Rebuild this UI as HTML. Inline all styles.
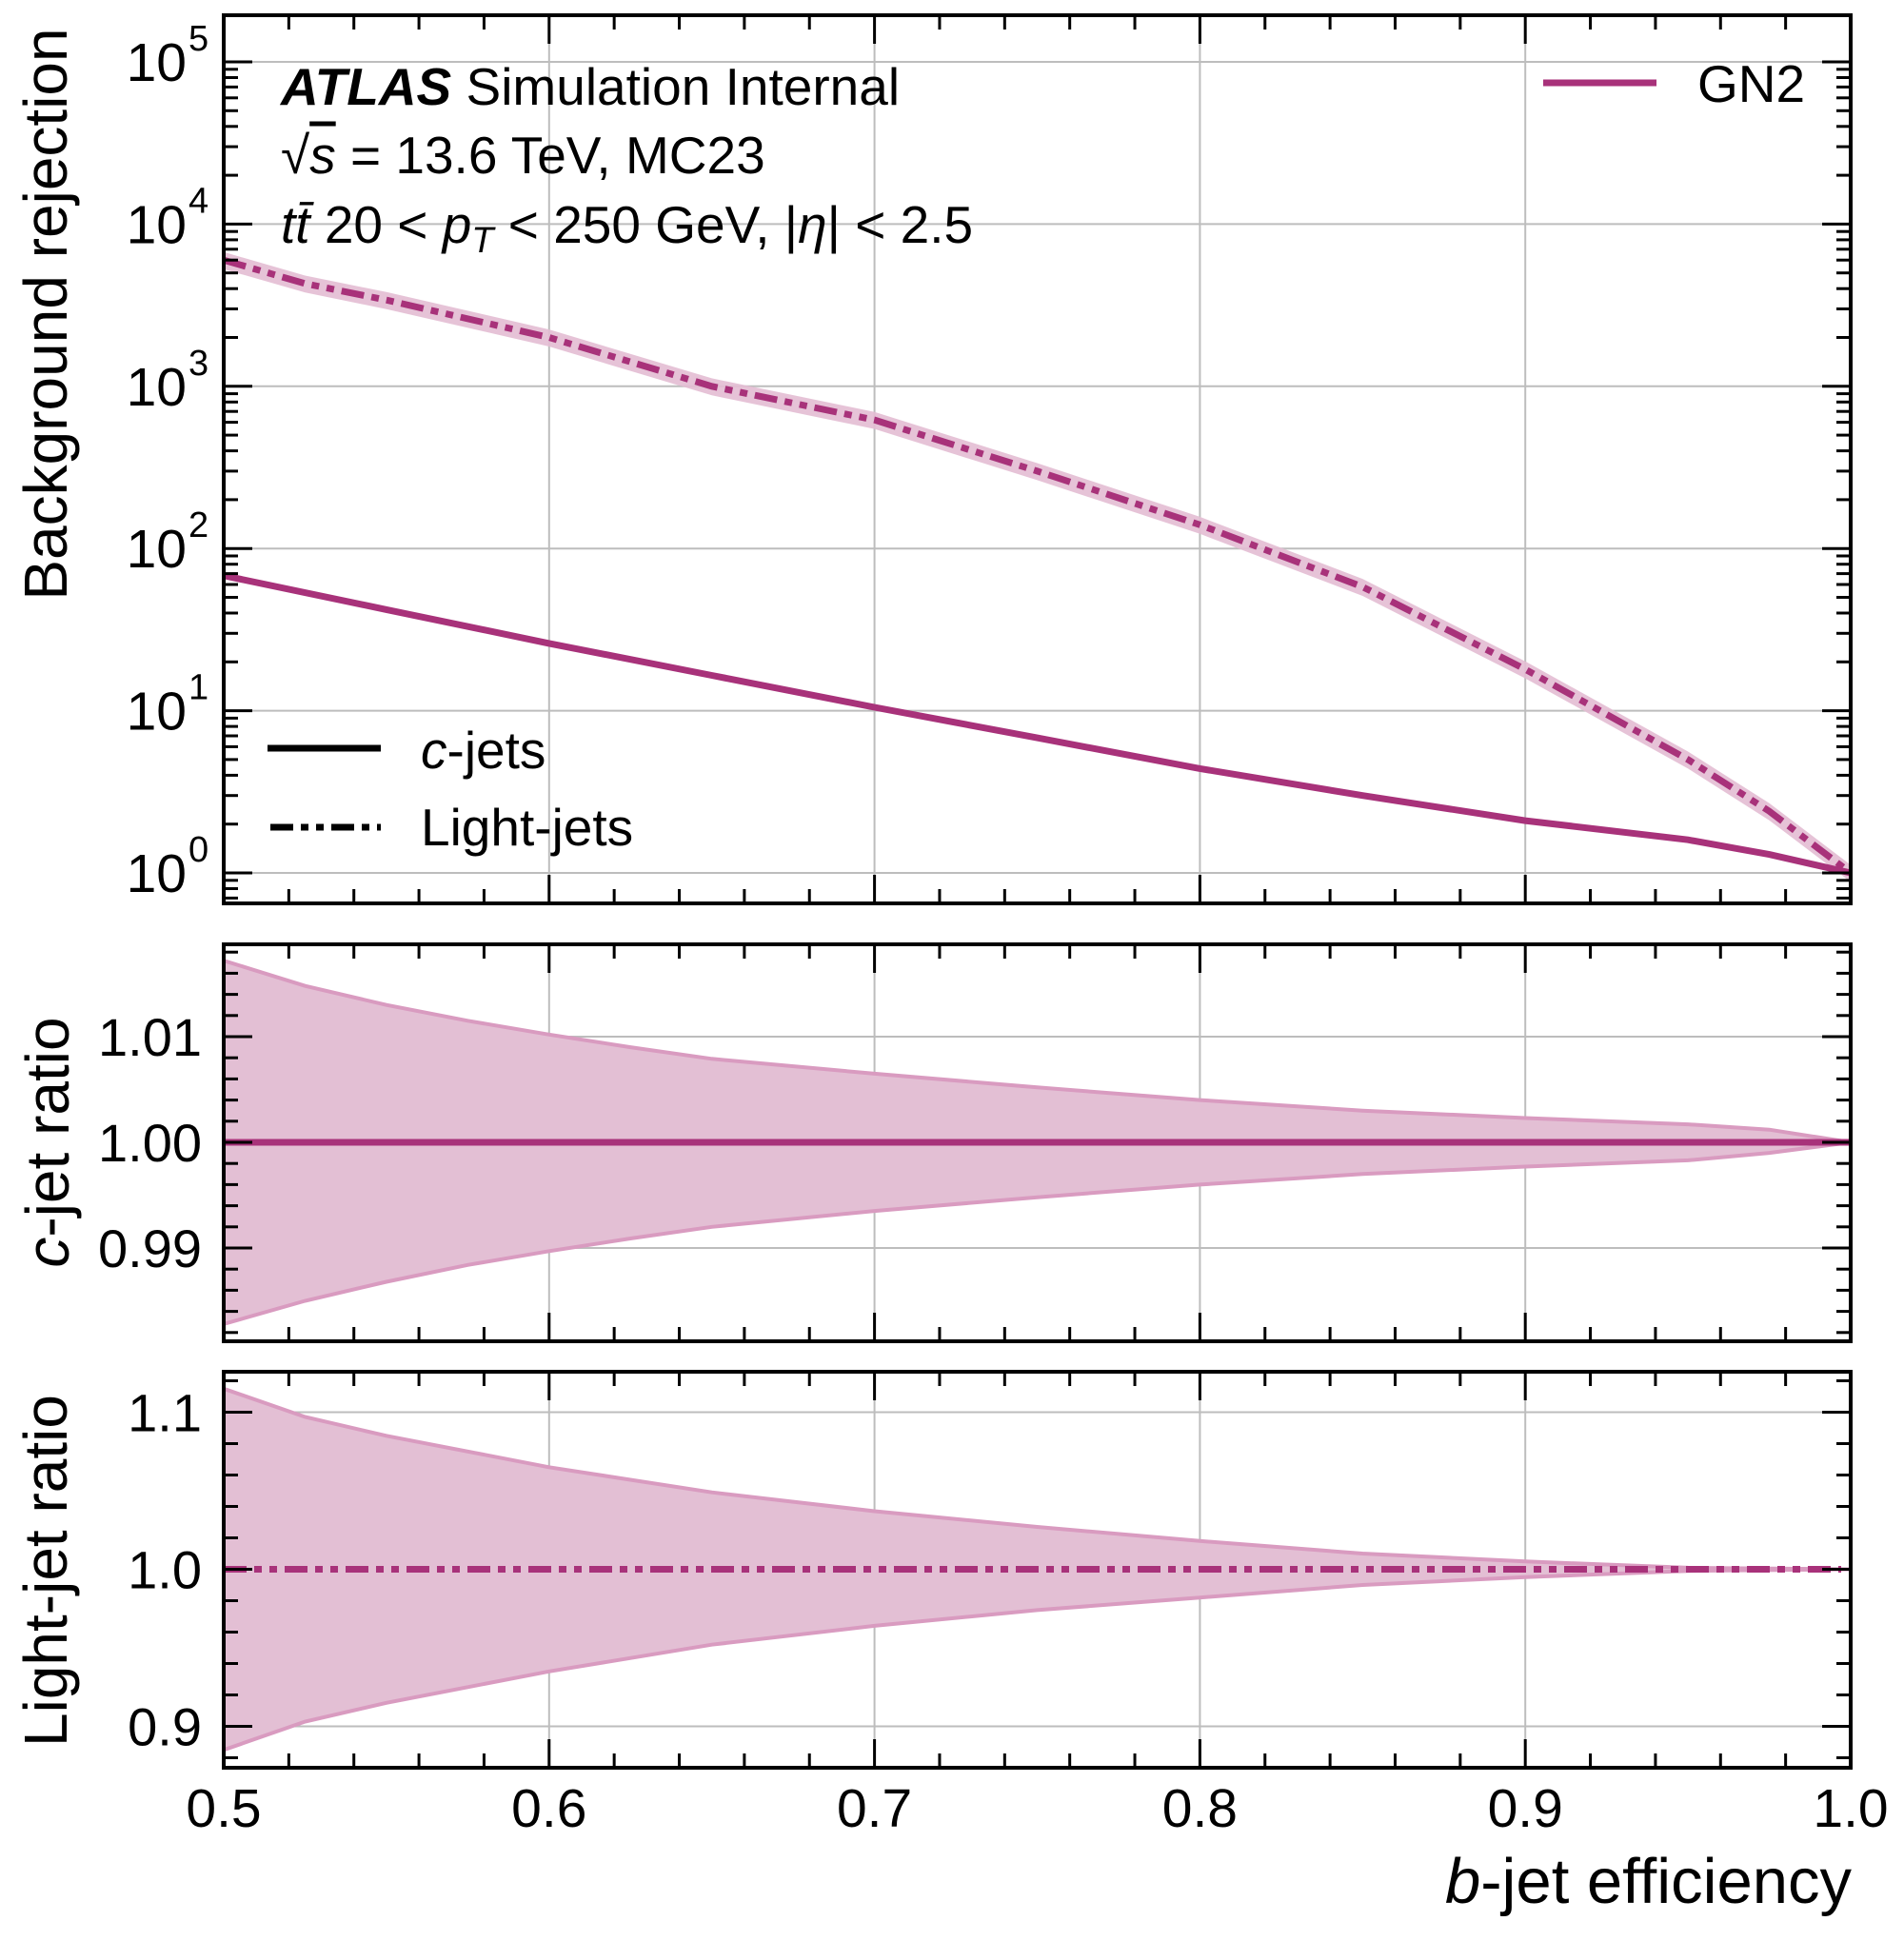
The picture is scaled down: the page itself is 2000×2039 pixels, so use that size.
<!DOCTYPE html>
<html><head><meta charset="utf-8"><style>
html,body{margin:0;padding:0;background:#fff}
svg{display:block}
text{font-family:"Liberation Sans",sans-serif;fill:#000}
</style></head><body>
<svg id="c" width="2000" height="2039" viewBox="0 0 2000 2039" xmlns="http://www.w3.org/2000/svg">
<g id="grid"></g>
<g id="marks"></g>
<g id="axes"></g>
<g>
<text x="295" y="110" font-size="55"><tspan font-weight="bold" font-style="italic">ATLAS</tspan> Simulation Internal</text>
<text x="295" y="182" font-size="55">√<tspan font-style="italic" text-decoration="overline">s</tspan> = 13.6 TeV, MC23</text>
<text x="295" y="255" font-size="55"><tspan font-style="italic">tt̄</tspan> 20 &lt; <tspan font-style="italic">p</tspan><tspan font-style="italic" font-size="38" dy="10">T</tspan><tspan dy="-10"> &lt; 250 GeV, |</tspan><tspan font-style="italic">η</tspan>| &lt; 2.5</text>
</g>
<g>
<line x1="1621" y1="87" x2="1740" y2="87" stroke="#a8327a" stroke-width="7"/>
<text x="1783" y="107" font-size="55">GN2</text>
</g>
<g>
<line x1="281" y1="786" x2="400" y2="786" stroke="#000" stroke-width="7"/>
<text x="442" y="807" font-size="55"><tspan font-style="italic">c</tspan>-jets</text>
</g>
<g>
<line x1="284" y1="869" x2="400" y2="869" stroke="#000" stroke-width="7" stroke-dasharray="24,8,8,8,8,8"/>
<text x="442" y="888" font-size="55">Light-jets</text>
</g>
<text font-size="64" text-anchor="middle" transform="translate(70,330) rotate(-90)">Background rejection</text>
<text font-size="64" text-anchor="middle" transform="translate(72,1200) rotate(-90)"><tspan font-style="italic">c</tspan>-jet ratio</text>
<text font-size="64" text-anchor="middle" transform="translate(70,1650) rotate(-90)">Light-jet ratio</text>
<text x="1945" y="1999" font-size="67" text-anchor="end"><tspan font-style="italic">b</tspan>-jet efficiency</text>
</svg>
<script>
// data
const effC = [0.5,0.55,0.6,0.65,0.7,0.75,0.8,0.85,0.9,0.95,0.975,1.0];
const rejC = [68,42,26,16.5,10.5,6.8,4.4,3.0,2.1,1.6,1.3,1.0];
const effL = [0.5,0.525,0.55,0.6,0.65,0.7,0.75,0.8,0.85,0.9,0.95,0.975,1.0];
const rejL = [6000,4300,3400,2000,1000,620,300,140,58,18,5,2.4,1.0];
const effCR = [0.5,0.525,0.55,0.575,0.6,0.625,0.65,0.7,0.75,0.8,0.85,0.9,0.95,0.975,1.0];
const cUp = [1.0172,1.0148,1.013,1.0115,1.0102,1.009,1.0079,1.0065,1.0052,1.0040,1.0030,1.0023,1.0017,1.0012,1.0];
const cLo = [0.9828,0.9850,0.9868,0.9884,0.9897,0.9909,0.9920,0.9935,0.9948,0.9960,0.9970,0.9977,0.9983,0.9990,1.0];
const effLR = [0.5,0.525,0.55,0.6,0.65,0.7,0.75,0.8,0.85,0.9,0.95,1.0];
const lUp = [1.115,1.097,1.085,1.065,1.049,1.037,1.027,1.018,1.010,1.005,1.001,1.0];
const lLo = [0.885,0.903,0.915,0.935,0.952,0.964,0.974,0.982,0.990,0.995,0.999,1.0];
const xTicks = ["0.5","0.6","0.7","0.8","0.9","1.0"];
const cTicks = ["0.99","1.00","1.01"];
const lTicks = ["0.9","1.0","1.1"];

const NS="http://www.w3.org/2000/svg";
const L=235,R=1944;
const X=v=>L+(v-0.5)/0.5*(R-L);
const P1={t:16,b:949}, P2={t:992,b:1409}, P3={t:1441,b:1857};
const Y1=v=>917-Math.log10(v)*170.4;
const Y2=v=>1200-(v-1)*11100;
const Y3=v=>1648.5-(v-1)*1650;
function mk(tag,attrs,parent){const e=document.createElementNS(NS,tag);for(const k in attrs)e.setAttribute(k,attrs[k]);parent.appendChild(e);return e;}
const grid=document.getElementById('grid'),marks=document.getElementById('marks'),axes=document.getElementById('axes');
function line(x1,y1,x2,y2,s,w,p){return mk('line',{x1,y1,x2,y2,stroke:s,'stroke-width':w},p);}

[P1,P2,P3].forEach(P=>{xTicks.forEach(t=>{const x=X(+t);line(x,P.t,x,P.b,'#bdbdbd',2,grid);});});
for(let d=0;d<=5;d++){line(L,Y1(Math.pow(10,d)),R,Y1(Math.pow(10,d)),'#bdbdbd',2,grid);}
cTicks.forEach(t=>line(L,Y2(+t),R,Y2(+t),'#bdbdbd',2,grid));
lTicks.forEach(t=>line(L,Y3(+t),R,Y3(+t),'#bdbdbd',2,grid));

const COL='#a8327a';
function pts(xs,ys,Y){return xs.map((x,i)=>X(x).toFixed(1)+','+Y(ys[i]).toFixed(1)).join(' ');}
const bandUpL=rejL.map(v=>v*1.12), bandLoL=rejL.map(v=>v*0.88);
let e=mk('polygon',{points:pts(effL,bandUpL,Y1)+' '+pts(effL.slice().reverse(),bandLoL.slice().reverse(),Y1),fill:'#e3bdd3',opacity:0.9},marks);

e=mk('polyline',{points:pts(effC,rejC,Y1),fill:'none',stroke:COL,'stroke-width':7},marks);

e=mk('polyline',{points:pts(effL,rejL,Y1),fill:'none',stroke:COL,'stroke-width':7,'stroke-dasharray':'24,8,8,8,8,8'},marks);

e=mk('polygon',{points:pts(effCR,cUp,Y2)+' '+pts(effCR.slice().reverse(),cLo.slice().reverse(),Y2),fill:'#e3bfd4',stroke:'#d99bc0','stroke-width':4},marks);

e=line(L,Y2(1),R,Y2(1),COL,7,marks);

e=mk('polygon',{points:pts(effLR,lUp,Y3)+' '+pts(effLR.slice().reverse(),lLo.slice().reverse(),Y3),fill:'#e3bfd4',stroke:'#d99bc0','stroke-width':4},marks);

e=mk('line',{x1:L,y1:Y3(1),x2:R-10,y2:Y3(1),stroke:COL,'stroke-width':7,'stroke-dasharray':'24,8,8,8,8,8'},marks);


function xticks(P){for(let i=0;i<=25;i++){const v=0.5+i*0.02;const x=X(v);const maj=i%5===0;const len=maj?30:15;
 line(x,P.b,x,P.b-len,'#000',3,axes);line(x,P.t,x,P.t+len,'#000',3,axes);}}
[P1,P2,P3].forEach(P=>{xticks(P);e=mk('rect',{x:L,y:P.t,width:R-L,height:P.b-P.t,fill:'none',stroke:'#000','stroke-width':4},axes);
 });
for(let d=-1;d<=5;d++){for(let m=1;m<=9;m++){const v=m*Math.pow(10,d);const y=Y1(v);if(y<P1.t||y>P1.b)continue;const len=m===1?30:15;
 line(L,y,L+len,y,'#000',3,axes);line(R,y,R-len,y,'#000',3,axes);}}
for(let d=0;d<=5;d++){const y=Y1(Math.pow(10,d));
 const t=mk('text',{x:196,y:y+20,'font-size':57,'text-anchor':'end'},axes);t.textContent='10';
 
 const s=mk('text',{x:198,y:y-12,'font-size':38},axes);s.textContent=String(d);}
for(let i=-9;i<=9;i++){const v=1+i*0.002;const y=Y2(v);if(y<P2.t||y>P2.b)continue;const len=i%5===0?30:15;
 line(L,y,L+len,y,'#000',3,axes);line(R,y,R-len,y,'#000',3,axes);}
for(let i=-6;i<=6;i++){const v=1+i*0.02;const y=Y3(v);if(y<P3.t||y>P3.b)continue;const len=i%5===0?30:15;
 line(L,y,L+len,y,'#000',3,axes);line(R,y,R-len,y,'#000',3,axes);}
cTicks.forEach(t=>{const el=mk('text',{x:212,y:Y2(+t)+20,'font-size':56,'text-anchor':'end'},axes);el.textContent=t;
 });
lTicks.forEach(t=>{const el=mk('text',{x:212,y:Y3(+t)+20,'font-size':56,'text-anchor':'end'},axes);el.textContent=t;
 });
xTicks.forEach(t=>{const el=mk('text',{x:X(+t),y:1919,'font-size':57,'text-anchor':'middle'},axes);el.textContent=t;
 });
</script>
</body></html>
